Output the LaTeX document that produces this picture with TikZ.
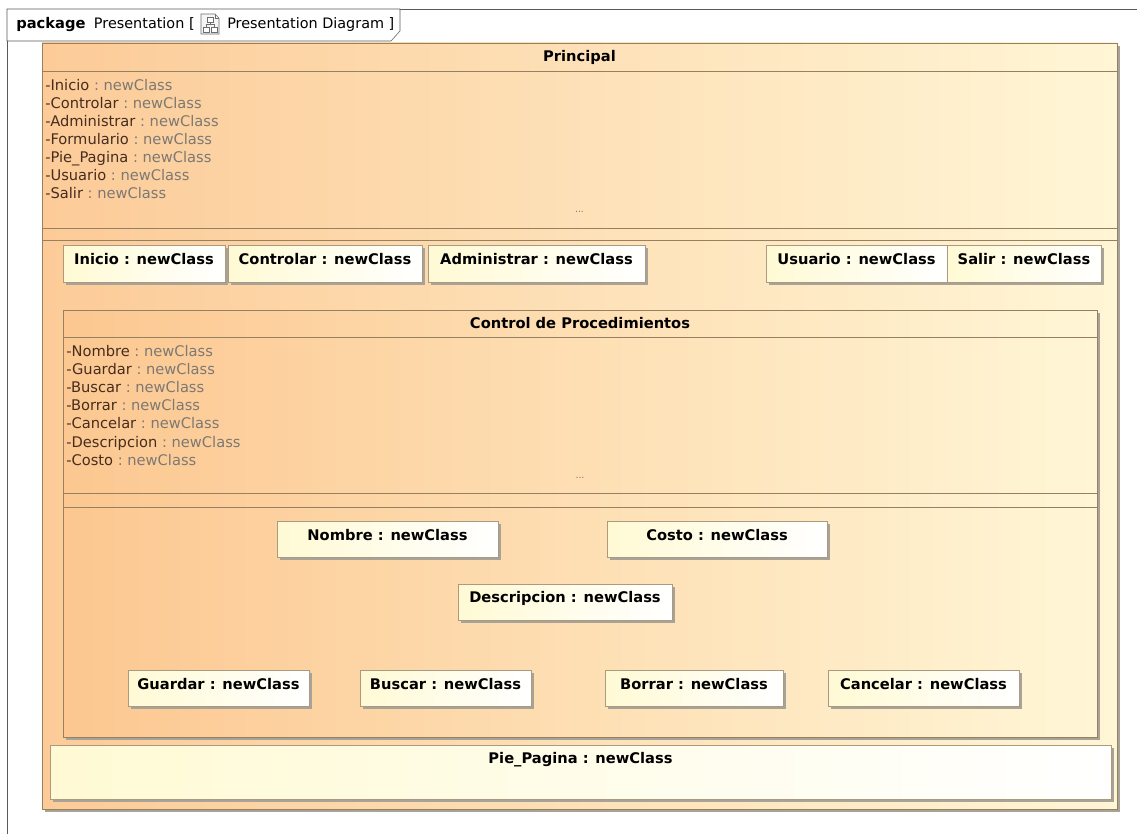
\documentclass[tikz,border=0pt]{standalone}
\usepackage{fontspec}
\setmainfont{DejaVu Sans}
\usepackage{tikz}
\usetikzlibrary{positioning}
\definecolor{umlpeach}{RGB}{252,203,152}
\definecolor{umlcream}{RGB}{255,246,214}
\definecolor{umlline}{RGB}{150,128,95}
\definecolor{umlshadow}{RGB}{168,163,152}
\definecolor{umlpart}{RGB}{255,250,212}
\definecolor{umltext}{RGB}{70,45,30}
\definecolor{umlgray}{RGB}{125,120,115}
\definecolor{umlframe}{RGB}{90,90,90}
\definecolor{umlicon}{RGB}{110,110,110}

\begin{document}
\begin{tikzpicture}[x=0.75pt, y=-0.75pt,
  attr/.style={font=\fontsize{11}{13}\selectfont, anchor=base west, inner sep=0pt},
  lbl/.style={font=\fontsize{11}{13}\selectfont\bfseries, text=black, inner sep=0pt},
  tabtxt/.style={font=\fontsize{10.8}{13}\selectfont, text=black, inner sep=0pt, anchor=base west}]
\useasboundingbox (0,0) rectangle (1137,834);
\fill[white] (0,0) rectangle (1137,834);

% frame and tab
\draw[umlframe] (7,834) -- (7,9) -- (1137,9);
\draw[umlframe, fill=white] (7,9) -- (400,9) -- (400,31) -- (391,41) -- (7,41) -- cycle;
\node[tabtxt, font=\fontsize{11}{13}\selectfont\bfseries] (pkgkw) at (16,28.5) {package};
\node[tabtxt, right=6pt of pkgkw.base east, anchor=base west] (pkgname) {Presentation [};
\draw[umlicon, fill=gray!8] (201,14) -- (215,14) -- (219,18) -- (219,34) -- (201,34) -- cycle;
\draw[umlicon] (215,14) -- (215,18) -- (219,18);
\draw[umlicon, fill=white] (207,17) rectangle (213,22);
\draw[umlicon, fill=white] (203,27) rectangle (209,32);
\draw[umlicon, fill=white] (211,27) rectangle (217,32);
\draw[umlicon] (210,22) -- (210,24.5) (206,24.5) -- (214,24.5) (206,24.5) -- (206,27) (214,24.5) -- (214,27);
\node[tabtxt] (pkgdiag) at (227,28.5) {Presentation Diagram ]};

% ---- Principal ----
\fill[umlshadow] (45,46) rectangle (1120,812);
\shade[left color=umlpeach, right color=umlcream] (42,43) rectangle (1117,809);
\draw[umlline] (42,43) rectangle (1117,809);
\draw[umlline] (42,71) -- (1117,71);
\node[lbl] (principal) at (579.5,57) {Principal};
\foreach \i/\nm in {0/Inicio, 1/Controlar, 2/Administrar, 3/Formulario,
    4/Pie\_Pagina, 5/Usuario, 6/Salir}{
  \node[attr] (pattr\i) at (45,90.5+18*\i)
    {\textcolor{umltext}{-\nm}\textcolor{umlgray}{\ :\ newClass}};
}
\node[attr, anchor=center, text=umlgray, font=\scriptsize] (pdots) at (579.5,212) {...};
\draw[umlline] (42,228) -- (1117,228);
\draw[umlline] (42,240) -- (1117,240);

% parts of Principal
\foreach \nm/\xa/\xb/\txt in {inicio/63/225/Inicio, controlar/228/422/Controlar,
    administrar/428/645/Administrar, usuario/766/947/Usuario, salir/947/1101/Salir}{
  \fill[umlshadow] (\xa+3,248) rectangle (\xb+3,285);
}
\foreach \nm/\xa/\xb/\txt in {inicio/63/225/Inicio, controlar/228/422/Controlar,
    administrar/428/645/Administrar, usuario/766/947/Usuario, salir/947/1101/Salir}{
  \shade[left color=umlpart, right color=white] (\xa,245) rectangle (\xb,282);
  \draw[umlline!80] (\xa,245) rectangle (\xb,282);
  \node[lbl] (\nm) at ({(\xa+\xb)/2},259.5) {\txt~: newClass};
}

% ---- Control de Procedimientos ----
\fill[umlshadow] (66,313) rectangle (1100,740);
\shade[left color=umlpeach!95!orange, right color=umlcream] (63,310) rectangle (1097,737);
\draw[umlline] (63,310) rectangle (1097,737);
\draw[umlline] (63,337) -- (1097,337);
\node[lbl] (control) at (580,323.5) {Control de Procedimientos};
\foreach \i/\nm in {0/Nombre, 1/Guardar, 2/Buscar, 3/Borrar, 4/Cancelar,
    5/Descripcion, 6/Costo}{
  \node[attr] (cattr\i) at (66,356+18.2*\i)
    {\textcolor{umltext}{-\nm}\textcolor{umlgray}{\ :\ newClass}};
}
\node[attr, anchor=center, text=umlgray, font=\scriptsize] (cdots) at (580,478) {...};
\draw[umlline] (63,493) -- (1097,493);
\draw[umlline] (63,507) -- (1097,507);

% parts of Control de Procedimientos
\foreach \nm/\xa/\ya/\xb/\yb/\txt in {nombre/277/521/498/557/Nombre,
    costo/607/521/827/557/Costo, descripcion/458/584/672/620/Descripcion,
    guardar/128/670/309/706/Guardar, buscar/360/670/531/706/Buscar,
    borrar/605/670/783/706/Borrar, cancelar/828/670/1019/706/Cancelar}{
  \fill[umlshadow] (\xa+3,\ya+3) rectangle (\xb+3,\yb+3);
  \shade[left color=umlpart, right color=white] (\xa,\ya) rectangle (\xb,\yb);
  \draw[umlline!80] (\xa,\ya) rectangle (\xb,\yb);
  \node[lbl] (\nm) at ({(\xa+\xb)/2},\ya+14.5) {\txt~: newClass};
}

% ---- Pie_Pagina ----
\fill[umlshadow] (53,748) rectangle (1114,802);
\shade[left color=umlpart, right color=white] (50,745) rectangle (1111,799);
\draw[umlline!80] (50,745) rectangle (1111,799);
\node[lbl] (piepagina) at (580.5,760) {Pie\_Pagina~: newClass};
\end{tikzpicture}
\end{document}
